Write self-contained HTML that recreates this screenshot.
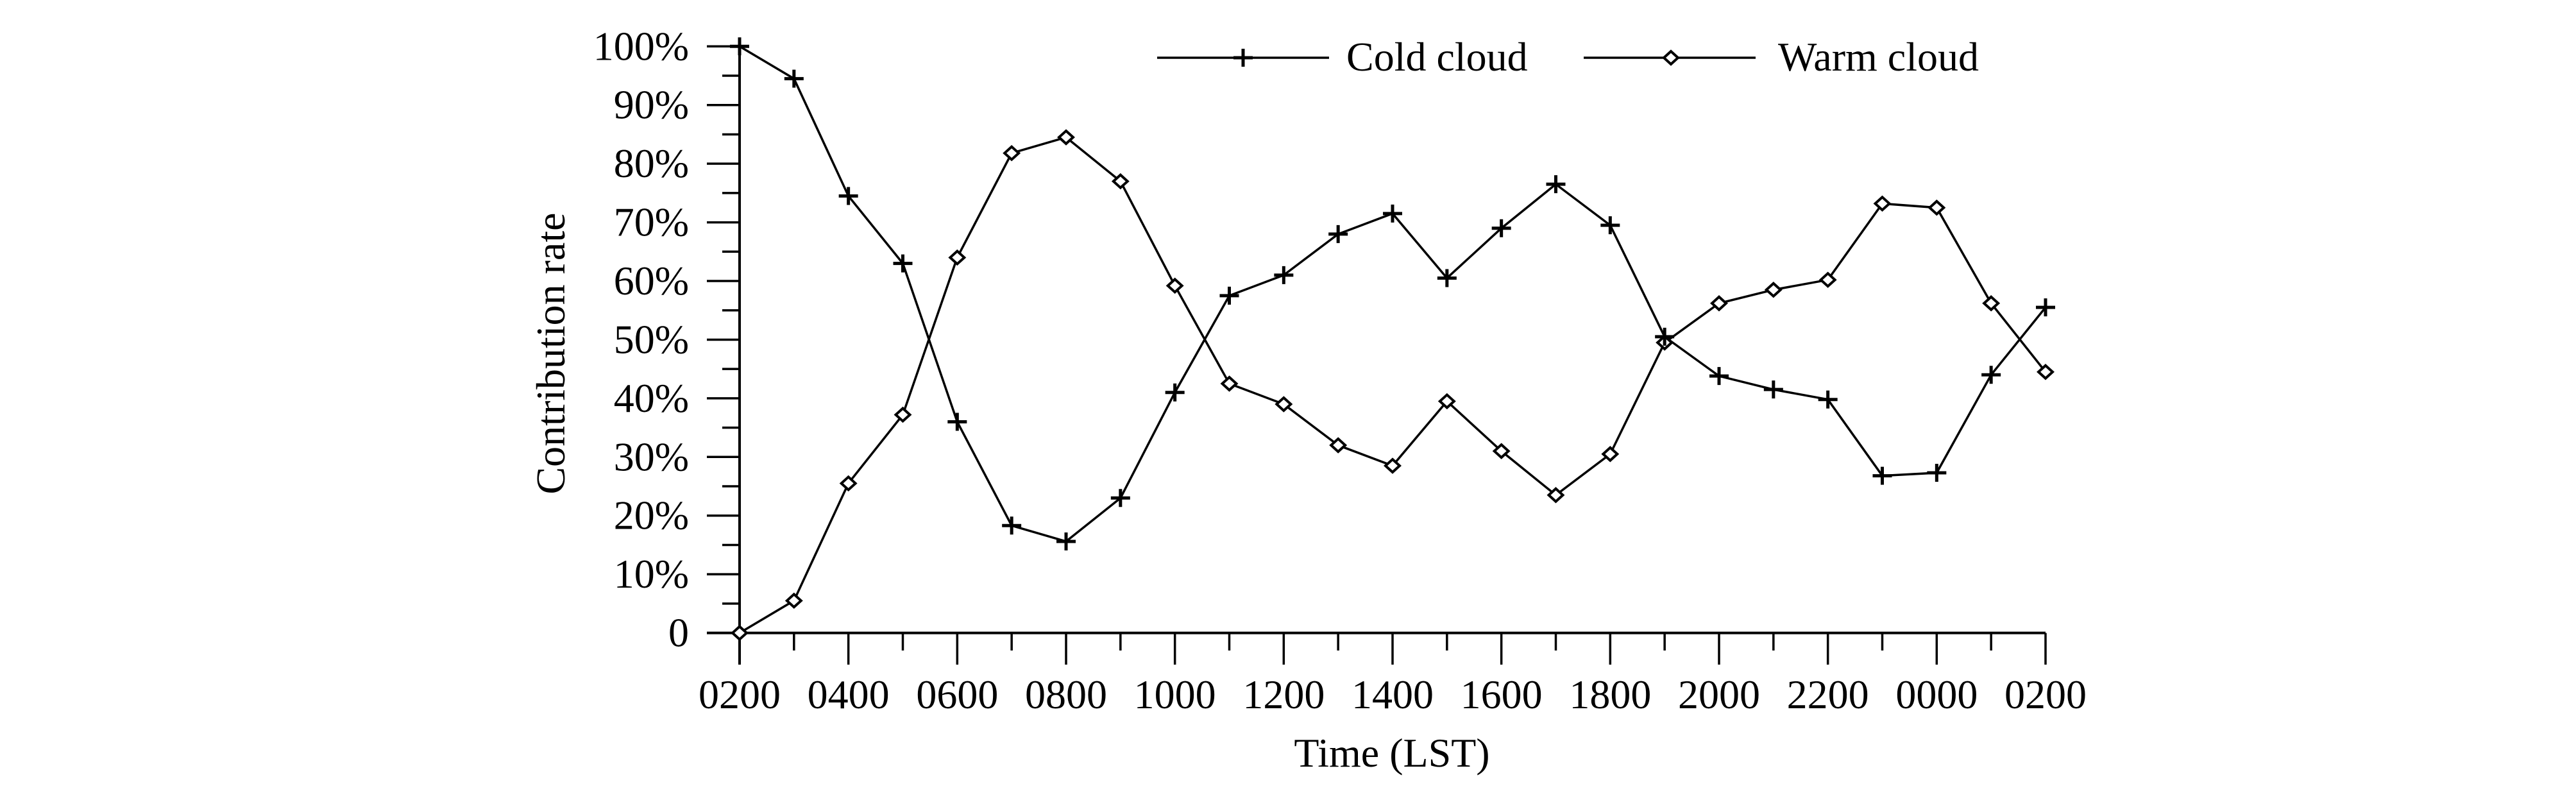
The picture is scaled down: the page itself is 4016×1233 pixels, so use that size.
<!DOCTYPE html>
<html><head><meta charset="utf-8"><style>
html,body{margin:0;padding:0;background:#fff;overflow:hidden;}
svg{display:block;font-family:"Liberation Serif",serif;}
</style></head><body>
<svg id="chart" width="4016" height="1233" viewBox="0 0 4016 1233" xmlns="http://www.w3.org/2000/svg">
<g id="axes"></g>
<g id="series"></g>
<g id="legend">
  <line x1="1804" y1="90" x2="2072" y2="90" stroke="#000" stroke-width="3.5"/>
  <path d="M1923 90h30M1938 76v28" stroke="#000" stroke-width="5"/>
  <text x="2099" y="110" font-size="64">Cold cloud</text>
  <line x1="2469" y1="90" x2="2737" y2="90" stroke="#000" stroke-width="3.5"/>
  <path d="M2605 80l11 10l-11 10l-11-10z" fill="#fff" stroke="#000" stroke-width="4"/>
  <text x="2772" y="110" font-size="64">Warm cloud</text>
</g>
<text transform="translate(880,551) rotate(-90)" text-anchor="middle" font-size="64">Contribution rate</text>
<text x="2170" y="1195" text-anchor="middle" font-size="64">Time (LST)</text>
</svg>
<script>
const xLabels = ["0200","0400","0600","0800","1000","1200","1400","1600","1800","2000","2200","0000","0200"];
const yTickLabels = ["0","10%","20%","30%","40%","50%","60%","70%","80%","90%","100%"];
const coldCloud = [100,94.5,74.5,63,36,18.3,15.6,23,41,57.5,61,68,71.5,60.5,69,76.5,69.5,50.5,43.8,41.5,39.8,26.8,27.3,44,55.5];
const warmCloud = [0,5.5,25.5,37.2,64,81.8,84.5,77,59.2,42.5,39,32,28.5,39.5,31,23.5,30.5,49.5,56.2,58.5,60.2,73.2,72.5,56.2,44.5];

const NS="http://www.w3.org/2000/svg";
const X0=1153, X1=3189, Y0=986.6, Y1=72.3;
const nPts = coldCloud.length;
function xs(i){return X0+(X1-X0)*i/(nPts-1);}
function ys(v){return Y0-(Y0-Y1)*v/100;}
function mk(tag,attrs,parent){const e=document.createElementNS(NS,tag);for(const k in attrs)e.setAttribute(k,attrs[k]);parent.appendChild(e);return e;}
const axes=document.getElementById('axes'), series=document.getElementById('series');

let el;
el=mk('line',{x1:X0,y1:Y1,x2:X0,y2:1036,stroke:'#000','stroke-width':4},axes);


el=mk('line',{x1:1102,y1:Y0,x2:X1,y2:Y0,stroke:'#000','stroke-width':4},axes);



for(let k=0;k<=20;k++){
  const v=k*5, y=ys(v), major=(k%2===0);
  el=mk('line',{x1:major?1102:1126,y1:y,x2:X0,y2:y,stroke:'#000','stroke-width':3.5},axes);
  
  
  if(major){
    el=mk('text',{x:1074,y:y+21,'text-anchor':'end','font-size':64},axes);
    el.textContent=yTickLabels[k/2];
    
    
  }
}
for(let i=0;i<nPts;i++){
  const x=xs(i), major=(i%2===0);
  el=mk('line',{x1:x,y1:Y0,x2:x,y2:major?1036:1014,stroke:'#000','stroke-width':3.5},axes);
  
  
  if(major){
    el=mk('text',{x:x,y:1104,'text-anchor':'middle','font-size':64},axes);
    el.textContent=xLabels[i/2];
    
    
  }
}

function drawSeries(data,name,marker){
  const pts=data.map((v,i)=>xs(i)+','+ys(v)).join(' ');
  el=mk('polyline',{points:pts,fill:'none',stroke:'#000','stroke-width':3.5},series);
  
  
  data.forEach((v,i)=>{
    const x=xs(i), y=ys(v);
    if(marker==='plus'){
      el=mk('path',{d:`M${x-15} ${y}h30M${x} ${y-14}v28`,stroke:'#000','stroke-width':5},series);
    } else {
      el=mk('path',{d:`M${x} ${y-10}l11 10l-11 10l-11-10z`,fill:'#fff',stroke:'#000','stroke-width':4},series);
    }
    
    
  });
}
drawSeries(warmCloud,'warm-cloud','diamond');
drawSeries(coldCloud,'cold-cloud','plus');
</script>
</body></html>
